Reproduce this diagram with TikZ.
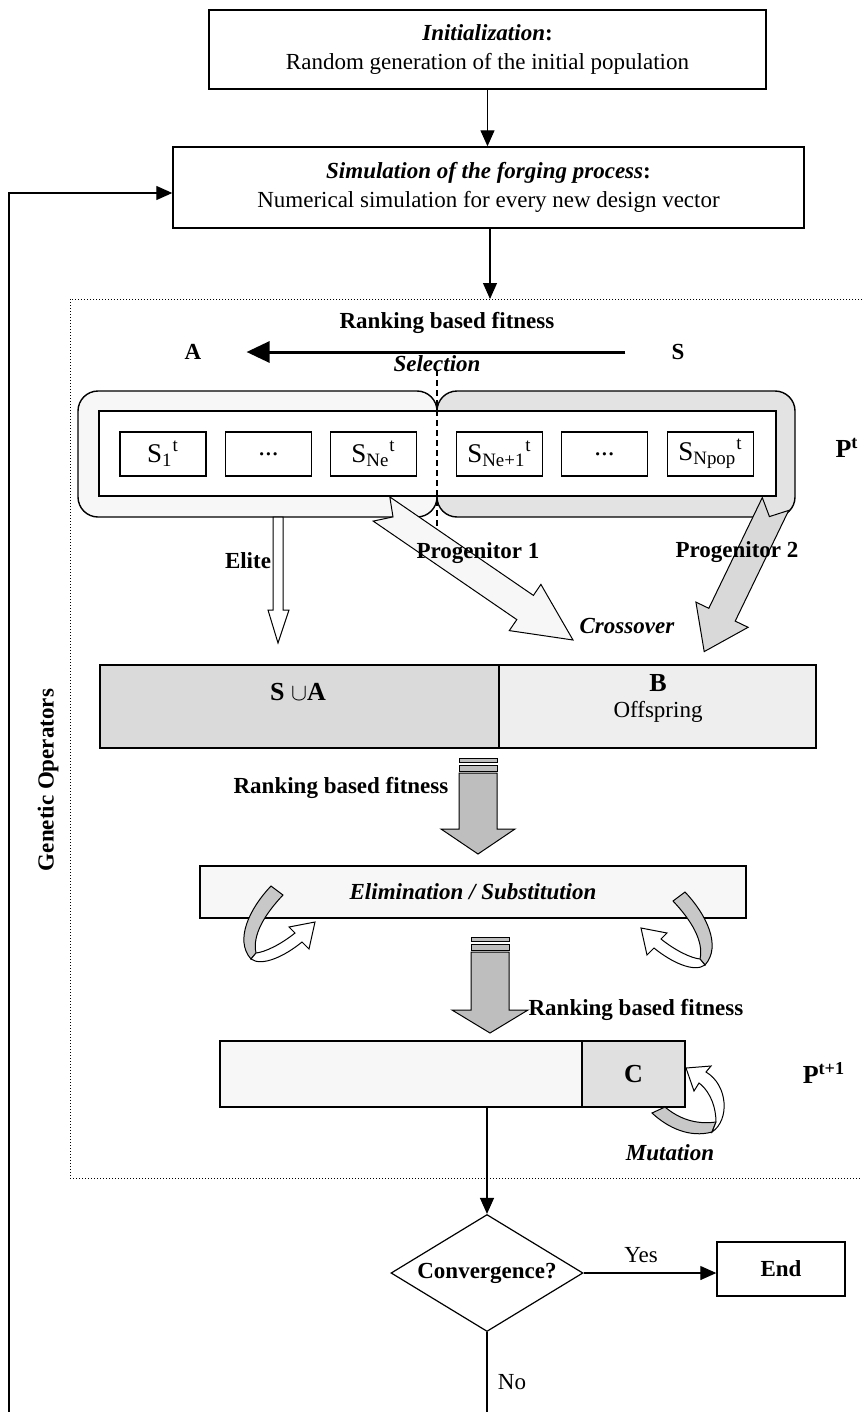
\documentclass[tikz,border=0pt]{standalone}
\usepackage{fontspec}
\setmainfont{Liberation Serif}
\usepackage{amsmath}
\usepackage{tikz}
\usetikzlibrary{arrows.meta, shapes.geometric}

\definecolor{lightfill}{HTML}{F7F7F7}
\definecolor{midfill}{HTML}{E3E3E3}
\definecolor{unionfill}{HTML}{DADADA}
\definecolor{offfill}{HTML}{EEEEEE}
\definecolor{mutfill}{HTML}{E0E0E0}
\definecolor{blockgray}{HTML}{BEBEBE}
\definecolor{ribbongray}{HTML}{C8C8C8}
\definecolor{progray}{HTML}{D9D9D9}

\tikzset{
  box/.style={draw, line width=0.7pt, inner sep=0pt, align=center},
  region/.style={draw, line width=0.7pt, rounded corners=10pt, inner sep=0pt},
  indiv/.style={box, fill=white, minimum width=43pt, minimum height=22pt, font=\fontsize{13.5}{15}\selectfont},
  biglabel/.style={font=\fontsize{13}{15}\selectfont},
  gabox/.style={densely dotted, line width=0.5pt},
  blockarrow/.style={draw, line width=0.5pt, line join=miter},
  selarrow/.style={line width=1.5pt, -{Triangle[length=11.5pt,width=10.5pt]}}
}

\begin{document}
\begin{tikzpicture}[x=0.5pt, y=-0.5pt, font=\fontsize{11.5}{14.5}\selectfont,
  >={Triangle[length=8pt,width=7pt]}, line width=0.6pt]
\useasboundingbox (0,0) rectangle (863,1412);
%
\node[box, minimum width=278.5pt, minimum height=39.5pt](init) at (487.5,49.5) {\textbf{\textit{Initialization}:}\\Random generation of the initial population};
%
\node[box, minimum width=315.5pt, minimum height=40.5pt](sim) at (488.5,187.5) {\textbf{\textit{Simulation of the forging process}:}\\Numerical simulation for every new design vector};
\draw[->](init) -- (init |- sim.north) {};
%
\coordinate(gatl) at (70,299);
\draw[gabox] (862,299) -- (gatl) -- (70,1178) -- (862,1178);
\draw[->](sim.south -| 490,0) -- (490,299) {};
\node[rotate=90](genop) at (48,780) {\textbf{Genetic Operators}};
%
\node(rank1) at (447,323) {\textbf{Ranking based fitness}};
\node(setA) at (193,352) {\textbf{A}};
\node(setS) at (678,352) {\textbf{S}};
\draw[selarrow, shorten <=19.5pt, shorten >=19pt](setS) -- (setA) {};
\node(sel) at (437,364) {\textbf{\textit{Selection}}};
%
\node[region, fill=lightfill, minimum width=179.5pt, minimum height=63pt](popA) at (257.5,454) {};
\node[region, fill=midfill, minimum width=179pt, minimum height=63pt](popS) at (616,454) {};
\node[box, fill=white, minimum width=338.5pt, minimum height=42.5pt](pop) at (437.5,453.5) {};
%
\node[indiv](s1) at (163,454) {S\textsubscript{1}\textsuperscript{t}};
\node[indiv](dots1) at (268.5,454) {...};
\node[indiv](sne) at (373.5,454) {S\textsubscript{Ne}\textsuperscript{t}};
\node[indiv](sne1) at (499.5,454) {S\textsubscript{Ne+1}\textsuperscript{t}};
\node[indiv](dots2) at (604.5,454) {...};
\node[indiv](snpop) at (710.5,454) {S\textsubscript{Npop}\textsuperscript{t}};
\node[biglabel](pt) at (847,448) {\textbf{P\textsuperscript{t}}};
%
\coordinate(cuttop) at (437,370);
\coordinate(cutbot) at (437,530);
\draw[dashed, dash pattern=on 3pt off 2pt](cuttop) -- (cutbot);
%
% elite, progenitor 1 and progenitor 2
\filldraw[blockarrow, fill=white] (273,517) -- (283,517) -- (283,610) -- (289,610) -- (278,643) -- (268,610) -- (273,610) -- cycle;
\filldraw[blockarrow, fill=lightfill] (389.8,496.9) -- (533.4,595.4) -- (540.9,584.4) -- (573,640) -- (509.3,630.6) -- (516.8,619.6) -- (373.2,521.1) -- (393,516.9) -- cycle;
\filldraw[blockarrow, fill=progray] (762.3,497.6) -- (708.8,608.3) -- (695.9,602.1) -- (704.2,651.6) -- (748.1,627.3) -- (735.2,621.1) -- (788.7,510.4) -- (769.4,516.6) -- cycle;
\node(elite) at (248,561) {\textbf{Elite}};
\node(prog1) at (478,553) {\textbf{Progenitor 1}};
\node(prog2) at (737,552) {\textbf{Progenitor 2}};
\node(cross) at (627,626) {\textbf{\textit{Crossover}}};
%
\node[box, fill=unionfill, minimum width=199.5pt, minimum height=41.5pt](union) at (299.5,706.5) {};
\node[box, fill=offfill, minimum width=158.5pt, minimum height=41.5pt](offs) at (657.5,706.5) {};
\node[biglabel](uniontxt) at (298,692) {\textbf{S $\cup$A}};
\node[biglabel](btxt) at (658,683) {\textbf{B}};
\node(offstxt) at (658,712) {Offspring};
%
\filldraw[blockarrow, fill=blockgray] (459,758) rectangle (497,762);
\filldraw[blockarrow, fill=blockgray] (459,765) rectangle (497,771);
\filldraw[blockarrow, fill=blockgray] (459,773) -- (497,773) -- (497,829) -- (515,829) -- (478,854) -- (441,829) -- (459,829) -- cycle;
\node(rank2) at (341,788) {\textbf{Ranking based fitness}};
%
\node[box, fill=lightfill, minimum width=273pt, minimum height=26pt](elim) at (473,892) {\textbf{\textit{Elimination / Substitution}}};
%
% turning ribbons
\filldraw[blockarrow, fill=ribbongray] (271,886) .. controls (250,908) and (234,940) .. (251,959) -- (256,953) .. controls (252,935) and (265,914) .. (283,895) -- cycle;
\filldraw[blockarrow, fill=white] (251,959) .. controls (262,967) and (285,956) .. (302,942) -- (309,949) -- (315,922) -- (289,927) -- (295,933) .. controls (280,945) and (265,952) .. (256,953) -- cycle;
\begin{scope}[xshift=478pt, xscale=-1, yshift=-3pt]
\filldraw[blockarrow, fill=ribbongray] (271,886) .. controls (250,908) and (234,940) .. (251,959) -- (256,953) .. controls (252,935) and (265,914) .. (283,895) -- cycle;
\filldraw[blockarrow, fill=white] (251,959) .. controls (262,967) and (285,956) .. (302,942) -- (309,949) -- (315,922) -- (289,927) -- (295,933) .. controls (280,945) and (265,952) .. (256,953) -- cycle;
\end{scope}
%
\filldraw[blockarrow, fill=blockgray] (471,937) rectangle (509,941);
\filldraw[blockarrow, fill=blockgray] (471,944) rectangle (509,950);
\filldraw[blockarrow, fill=blockgray] (471,952) -- (509,952) -- (509,1010) -- (528,1010) -- (490,1033) -- (452,1010) -- (471,1010) -- cycle;
\node[anchor=west, inner sep=0pt](rank3) at (528,1010) {\textbf{Ranking based fitness}};
%
\node[box, fill=lightfill, minimum width=181pt, minimum height=33pt](pkeep) at (401,1074) {};
\node[box, fill=mutfill, biglabel, minimum width=51.5pt, minimum height=33pt](pmut) at (633.5,1074) {\textbf{C}};
\node[biglabel](ptnext) at (824,1073) {\textbf{P\textsuperscript{t+1}}};
\filldraw[blockarrow, fill=ribbongray] (652,1113) .. controls (668,1128) and (690,1138) .. (712,1132) -- (716,1122) .. controls (695,1125) and (678,1118) .. (665,1107) -- cycle;
\filldraw[blockarrow, fill=white] (712,1132) .. controls (730,1120) and (728,1085) .. (706,1072) -- (711,1066) -- (686,1068) -- (694,1091) -- (699,1083) .. controls (712,1093) and (716,1110) .. (716,1122) -- cycle;
\node(mut) at (670,1153) {\textbf{\textit{Mutation}}};
%
\node[draw, diamond, aspect=1.64, inner sep=0pt, minimum width=96pt, minimum height=58.5pt](conv) at (487,1273) {\textbf{Convergence?}};
\draw[->](conv.north |- pkeep.south) -- (conv.north) {};
%
\node[box, minimum width=64pt, minimum height=27pt](fin) at (781,1269) {\textbf{End}};
\draw[->](conv.east) -- (conv.east -| fin.west) {};
\node(yes) at (641,1255) {Yes};
%
\coordinate(nobot) at (487,1412);
\draw(conv.south) -- (nobot) {};
\node(no) at (512,1382) {No};
%
\coordinate(fbbot) at (9,1412);
\coordinate(fbtop) at (9,193);
\draw[->](fbbot) -- (fbtop) -- (fbtop -| sim.west) {};
\end{tikzpicture}
\end{document}
